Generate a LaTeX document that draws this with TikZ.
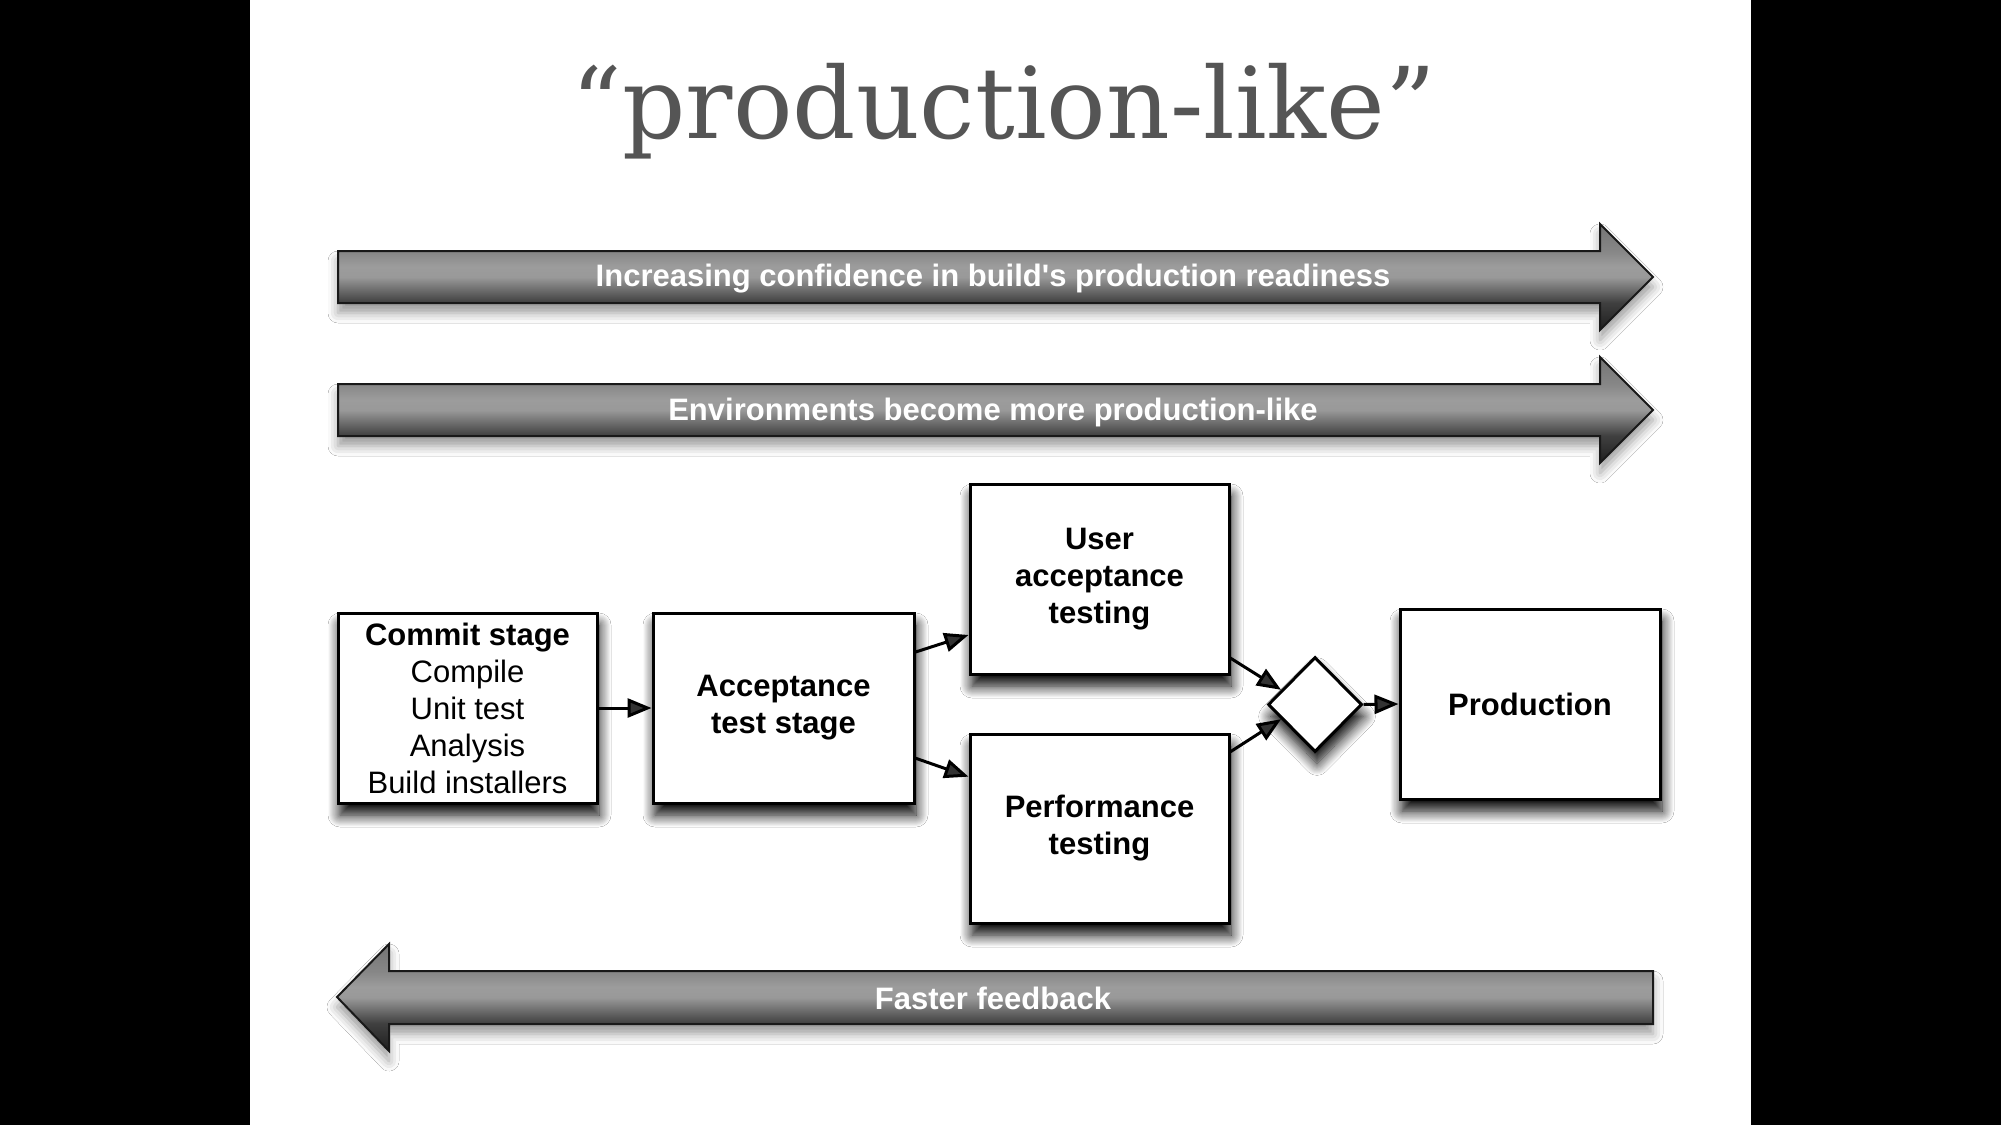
\documentclass[tikz,border=0pt]{standalone}
\usepackage{fontspec}
\setmainfont{Liberation Sans}
\newfontfamily\titlefont{DejaVu Serif}
\usetikzlibrary{shapes.geometric,arrows.meta,calc,shadows.blur}
\definecolor{titlegray}{HTML}{555555}
\definecolor{shA}{HTML}{1E1E1E}
\definecolor{shB}{HTML}{404040}
\definecolor{shC}{HTML}{999999}
\definecolor{shD}{HTML}{9C9C9C}
\definecolor{shE}{HTML}{878787}
\definecolor{shF}{HTML}{747474}
\pgfdeclareverticalshading{arrowshade}{100bp}{color(0bp)=(shA); color(25bp)=(shA); color(38bp)=(shB); color(50bp)=(shC); color(55bp)=(shD); color(62bp)=(shE); color(75bp)=(shF); color(100bp)=(shF)}
\begin{document}
\begin{tikzpicture}[x=1pt,y=-1pt,
  boxshadow/.style={blur shadow={shadow xshift=2pt, shadow yshift=-12pt, shadow blur radius=12pt, shadow blur steps=12, shadow opacity=100}},
  box/.style={draw=black, line width=3pt, fill=white, minimum width=259pt, minimum height=190pt,
    align=center, inner sep=0pt, font=\bfseries\fontsize{31}{37}\selectfont, boxshadow},
  conn/.style={line width=3pt, -{Triangle[length=24pt,width=19pt]}},
  banner/.style={draw=black!90, line width=2pt, shading=arrowshade,
    blur shadow={shadow xshift=0pt, shadow yshift=-10pt, shadow blur radius=10pt, shadow opacity=40}},
  bannertext/.style={text=white, font=\bfseries\fontsize{31}{37}\selectfont}]
\useasboundingbox (0,0) rectangle (2001,1125);
\fill[black] (0,0) rectangle (2001,1125);
\fill[white] (250,0) rectangle (1751,1125);

\node[anchor=base, text=titlegray, font=\titlefont\fontsize{99}{110}\selectfont] (title) at (1004,138) {“production-like”};

\path[banner] (338,251) -- (1600,251) -- (1600,224) -- (1653,277) -- (1600,330) -- (1600,303) -- (338,303) -- cycle;
\node[bannertext] (b1) at (993,279) {Increasing confidence in build\textquotesingle s production readiness};

\path[banner] (338,384) -- (1600,384) -- (1600,357) -- (1653,410) -- (1600,463) -- (1600,436) -- (338,436) -- cycle;
\node[bannertext] (b2) at (993,412) {Environments become more production-like};

\path[banner] (1653,971) -- (389,971) -- (389,944) -- (337,997) -- (389,1051) -- (389,1024) -- (1653,1024) -- cycle;
\node[bannertext] (b3) at (993,998) {Faster feedback};

\node[box, font=\fontsize{31}{37}\selectfont] (commit) at (467.5,708) {\textbf{Commit stage}\\Compile\\Unit test\\Analysis\\Build installers};
\node[box, minimum width=261pt] (accept) at (783.5,708) {Acceptance\\test stage};
\node[box] (uat) at (1099.5,579) {User\\acceptance\\testing};
\node[box, minimum height=189pt] (perf) at (1099.5,828.5) {Performance\\testing};
\node[draw=black, line width=3pt, fill=white, diamond, minimum width=94pt, minimum height=95pt, inner sep=0pt,
  boxshadow] (dia) at (1315,704.5) {};
\node[box, minimum width=260pt] (prod) at (1530,704) {Production};

\draw[conn] (commit.east) -- (accept.west);
\draw[conn] ($(accept.north east)!0.21!(accept.south east)$) -- ($(uat.north west)!0.79!(uat.south west)$);
\draw[conn] ($(accept.north east)!0.76!(accept.south east)$) -- ($(perf.north west)!0.23!(perf.south west)$);
\draw[conn] ($(uat.north east)!0.91!(uat.south east)$) -- ($(dia.west)!0.3!(dia.north)$);
\draw[conn] ($(perf.north east)!0.1!(perf.south east)$) -- ($(dia.west)!0.3!(dia.south)$);
\draw[conn] (dia.east) -- (prod.west);
\end{tikzpicture}
\end{document}
